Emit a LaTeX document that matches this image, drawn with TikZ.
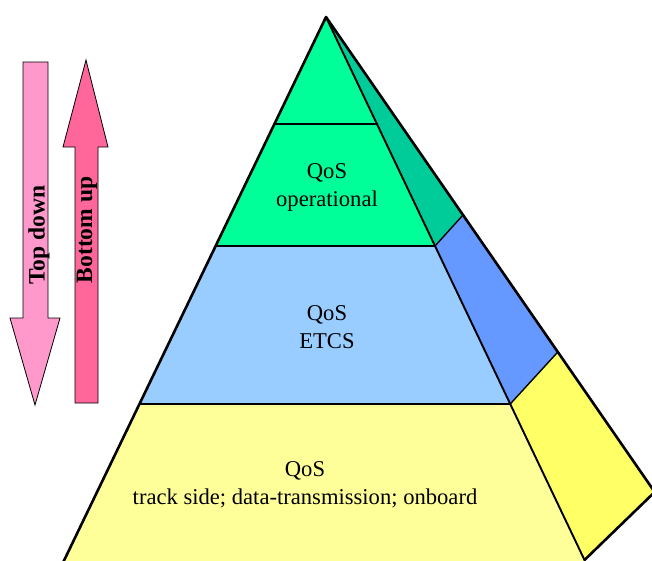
\documentclass[tikz,border=0pt]{standalone}
\usepackage{fontspec}
\setmainfont{Liberation Serif}
\usetikzlibrary{calc}
\definecolor{frontgreen}{RGB}{0,255,153}
\definecolor{sidegreen}{RGB}{0,204,153}
\definecolor{frontblue}{RGB}{153,204,255}
\definecolor{sideblue}{RGB}{102,153,255}
\definecolor{frontyellow}{RGB}{255,255,153}
\definecolor{sideyellow}{RGB}{255,255,102}
\definecolor{pinklight}{RGB}{255,153,204}
\definecolor{pinkdark}{RGB}{255,102,153}
\tikzset{
  outline/.style={line width=2.6pt, line join=round, line cap=round},
  seam/.style={line width=1.4pt},
  arrowbody/.style={draw=black, line width=0.8pt, line join=miter},
  layerlabel/.style={align=center, font=\fontsize{22.6}{28}\selectfont},
  arrowlabel/.style={rotate=90, font=\bfseries\fontsize{23.5}{27}\selectfont}
}
\begin{document}
\begin{tikzpicture}[x=1pt, y=-1pt]
  \useasboundingbox (0,0) rectangle (652,560);
  \clip (0,0) rectangle (652,560);

  % pyramid corners
  \coordinate (apex) at (326,17);
  \coordinate (l1) at (274.4,124);
  \coordinate (r1) at (376.9,124);
  \coordinate (l2) at (215.6,246);
  \coordinate (r2) at (435,246);
  \coordinate (l3) at (139.5,404);
  \coordinate (r3) at (510.2,404);
  \coordinate (l4) at (45,600);
  \coordinate (r4) at (584.5,560);
  \coordinate (s1) at (463,215);
  \coordinate (s2) at (557.8,352);
  \coordinate (s3) at (654.7,492);

  % front faces
  \fill[frontgreen] (apex) -- (l2) -- (r2) -- cycle;
  \fill[frontblue] (l2) -- (r2) -- (r3) -- (l3) -- cycle;
  \fill[frontyellow] (l3) -- (r3) -- (r4) -- ($(r4)!-1!(r3)$) -- (l4) -- cycle;

  % side faces
  \fill[sidegreen] (apex) -- (s1) -- (r2) -- cycle;
  \fill[sideblue] (r2) -- (s1) -- (s2) -- (r3) -- cycle;
  \fill[sideyellow] (r3) -- (s2) -- (s3) -- (r4) -- cycle;

  % seams
  \draw[seam] (l1) -- (r1);
  \draw[seam] (l2) -- (r2);
  \draw[seam] (l3) -- (r3);
  \draw[seam] (r2) -- (s1);
  \draw[seam] (r3) -- (s2);
  \draw[line width=1.9pt] (apex) -- (r4);

  % outline
  \draw[outline] (l4) -- (apex) -- (s3) -- (r4);

  % texts
  \node[layerlabel] (qosop) at (327,187) {QoS\\operational};
  \node[layerlabel] (qosetcs) at (327,327) {QoS\\ETCS};
  \node[layerlabel] (qosall) at (305,485) {QoS\\track side; data-transmission; onboard};

  % direction arrows
  \draw[arrowbody, fill=pinklight] (23,62) -- (48,62) -- (48,318) -- (60,318)
    -- (35,405) -- (10,318) -- (23,318) -- cycle;
  \draw[arrowbody, fill=pinkdark] (75,403) -- (98,403) -- (98,147) -- (108,147)
    -- (86,60) -- (63,147) -- (75,147) -- cycle;
  \node[arrowlabel] (topdown) at (39,235) {Top down};
  \node[arrowlabel] (bottomup) at (87,230) {Bottom up};
\end{tikzpicture}
\end{document}
